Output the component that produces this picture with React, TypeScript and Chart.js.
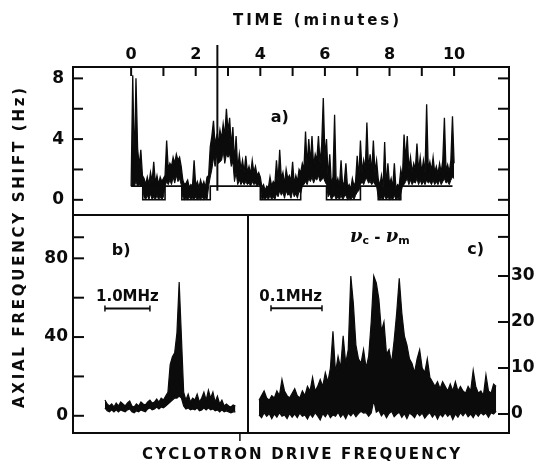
import React, { useEffect, useRef } from "react";
import { Chart, registerables } from "chart.js";

Chart.register(...registerables);

const W = 537;
const H = 466;
const INK = "#0b0b0b";
const FONT = "DejaVu Sans";

// ---------- Panel a) : axial frequency shift vs time ----------
const TIME_LABELS = [0, 2, 4, 6, 8, 10];
const TIME_TICKS = [0, 1, 2, 3, 4, 5, 6, 7, 8, 9, 10];
const SHIFT_LABELS = [0, 4, 8];
const SHIFT_TICKS = [0, 2, 4, 6, 8];
const A_DT = 0.05; // minutes between samples
// upper edge of the noisy trace
const A_UPPER = [
  0.9,
  8.2, 2.0, 8.0, 3.4, 2.2, 3.3, 1.6, 1.4, 1.0, 1.5,
  1.0, 1.8, 1.2, 2.5, 1.1, 1.6, 1.0, 1.5, 1.2, 1.4,
  1.6, 3.9, 2.0, 2.4, 2.2, 2.8, 2.4, 3.0, 2.6, 2.8,
  2.2, 1.3, 1.0, 1.1, 1.3, 0.8, 1.0, 0.9, 2.6, 0.9,
  1.2, 0.8, 1.3, 0.9, 1.2, 0.8, 1.5, 1.6, 3.5, 4.2,
  5.2, 3.6, 4.2, 3.8, 4.6, 4.0, 5.0, 4.2, 6.0, 4.5,
  5.4, 3.5, 4.8, 2.4, 4.2, 2.0, 3.0, 2.0, 2.6, 1.8,
  2.9, 1.8, 2.2, 1.7, 2.6, 1.8, 2.2, 1.6, 1.8, 1.5,
  0.8, 1.0, 0.6, 0.9, 0.8, 1.5, 0.9, 1.2, 1.0, 2.6,
  1.2, 3.3, 1.4, 1.8, 1.0, 2.0, 1.4, 1.6, 1.2, 2.5,
  1.0, 1.6, 1.2, 2.0, 1.8, 2.4, 2.0, 4.5, 2.2, 4.0,
  2.4, 4.2, 2.2, 3.0, 2.6, 4.2, 2.4, 3.6, 6.7, 2.8,
  4.0, 1.4, 3.0, 1.0, 1.5, 5.6, 1.0, 1.4, 0.9, 2.6,
  0.9, 1.2, 2.4, 0.8, 1.0, 0.7, 1.4, 0.9, 1.2, 2.9,
  1.4, 3.9, 1.8, 2.6, 2.0, 5.1, 2.0, 3.0, 1.8, 3.9,
  1.8, 2.6, 1.4, 0.9, 1.6, 0.8, 3.8, 0.9, 2.4, 1.0,
  1.4, 0.8, 2.4, 0.7, 1.0, 0.9, 2.0, 1.4, 4.3, 2.6,
  4.2, 2.0, 2.8, 1.8, 2.4, 2.0, 3.7, 1.9, 2.8, 1.8,
  2.6, 1.8, 6.3, 2.0, 2.5, 1.9, 2.8, 1.8, 2.2, 1.7,
  2.4, 1.8, 2.6, 5.4, 1.9, 2.3, 1.8, 2.6, 5.5, 2.4,
];
// lower edge of the noisy trace
const A_LOWER = [
  0.9,
  0.9, 0.9, 1.2, 0.9, 1.0, 0.9, 0.9, 0.2, 0, 0.3,
  0, 0.4, 0, 0.2, 0, 0.3, 0, 0.2, 0, 0.2,
  0.9, 1.2, 1.0, 1.3, 1.0, 1.5, 1.1, 1.6, 1.2, 1.4,
  1.0, 0.2, 0, 0.1, 0, 0.2, 0, 0.1, 0, 0.2,
  0, 0.1, 0, 0.2, 0, 0.1, 0, 0.9, 1.5, 2.0,
  2.8, 2.2, 3.0, 2.4, 2.5, 2.6, 3.2, 2.4, 3.0, 2.8,
  3.0, 2.2, 2.5, 1.2, 1.8, 1.0, 1.3, 1.0, 1.2, 1.0,
  1.2, 1.0, 1.1, 0.9, 1.2, 1.0, 1.1, 0.9, 1.0, 0.9,
  0, 0.1, 0, 0.2, 0, 0.3, 0, 0.2, 0, 0.4,
  0.2, 0.6, 0.3, 0.5, 0.1, 0.6, 0.3, 0.4, 0.1, 0.6,
  0.2, 0.4, 0.1, 0.6, 0.4, 0.9, 1.0, 1.2, 1.0, 1.4,
  1.2, 1.5, 1.1, 1.4, 1.3, 1.6, 1.2, 1.3, 1.5, 1.2,
  1.0, 0.2, 0.4, 0, 0.2, 0.3, 0, 0.2, 0, 0.3,
  0, 0.2, 0.3, 0, 0.1, 0, 0.2, 0, 0.3, 0.5,
  0.6, 1.0, 1.2, 1.0, 1.3, 1.4, 1.1, 1.2, 1.0, 1.2,
  1.0, 0.9, 0.2, 0, 0.1, 0, 0.3, 0, 0.2, 0,
  0.1, 0, 0.3, 0, 0.1, 0, 0.4, 0.9, 1.0, 1.2,
  1.4, 1.0, 1.3, 1.0, 1.2, 1.1, 1.4, 1.0, 1.3, 1.0,
  1.2, 1.0, 1.3, 1.1, 1.2, 1.0, 1.3, 1.0, 1.2, 1.0,
  1.3, 1.0, 1.2, 1.4, 1.1, 1.2, 1.0, 1.3, 1.5, 1.4,
];
const A_FLOOR_T = [0, 0.36, 1.05, 1.57, 2.45, 4.0, 5.25, 6.05, 7.1, 7.65, 8.35, 9.95];
const A_FLOOR_V = [0.9, 0, 0.9, 0, 0.9, 0, 0.9, 0, 0.9, 0, 0.9, 0.9];
const MARKER_T = 2.67;
const MARKER_RANGE = [0.6, 10.2];

// ---------- Panel b) : wide sweep (MHz) ----------
const B_DX = 0.05; // MHz between samples
const B_UPPER = [
  8, 6, 5, 6, 4.5, 6.5, 5, 7, 6, 5,
  6.5, 7.5, 5, 4.5, 6, 5, 7, 6, 5.5, 7,
  8, 6.5, 7, 8.5, 7, 9, 8, 10, 12, 26,
  30, 32, 42, 68, 40, 12, 8, 11, 7, 9,
  8, 11, 7, 9, 12, 8, 13, 9, 12, 7,
  10, 6, 8, 5, 6, 5, 4.5, 5.5, 5,
];
const B_LOWER = [
  4, 2.5, 2, 3, 2, 3, 2, 3, 2.5, 2,
  3, 3.5, 2, 1.5, 2.5, 2, 3, 2.5, 2, 3.5,
  4, 3, 3.5, 4.5, 3.5, 4.5, 4, 5, 6, 7,
  8, 9, 9, 10, 9, 5, 3.5, 4, 3, 3.5,
  3, 4, 2.5, 3, 4, 3, 4, 3, 3.5, 2.5,
  3, 2, 3, 2, 2.5, 2, 1.5, 2, 2,
];
const B_LABELS = [0, 40, 80];
const B_TICKS = [0, 20, 40, 60, 80, 90.7];
const B_BAR = [0, 1.0]; // MHz
const B_BAR_Y = 54.5;
const B_BAR_TEXT_Y = 60.5;
const B_EDGE_MARK = 3.0;

// ---------- Panel c) : narrow sweep (kHz) ----------
const C_DX = 5; // kHz between samples
const C_UPPER = [
  3, 4, 5, 3.5, 3, 4, 3.5, 5, 4, 7.5,
  5, 4, 3.5, 4.5, 5.5, 4, 3.5, 5, 4, 6,
  5, 8, 5, 6, 7.5, 6, 9, 7, 10, 18,
  9, 12.5, 10, 17, 11, 14, 30, 24, 15, 12,
  11, 14, 10, 12.5, 20, 30, 28.5, 25, 18, 20,
  13, 14, 11, 16, 22, 29.5, 22, 17, 15, 12,
  11, 9, 12, 14, 10, 9, 12, 8, 7, 6,
  7, 5.5, 7, 6, 5, 6.5, 5, 7, 5, 6,
  5, 4.5, 6, 5, 9.5, 6, 4.5, 5, 4, 8.5,
  5, 4.5, 6.5, 6,
];
const C_LOWER = [
  -0.2, -0.8, 0.3, -0.5, 0.1, -1.0, 0, -0.7, 0.3, -0.5,
  -0.2, -1.0, 0.1, -0.7, 0, -0.8, 0.2, -0.5, -0.2, -1.1,
  0, -0.7, 0.3, -0.4, -1.3, 0.1, -0.6, 0.3, -0.8, -0.2,
  -0.5, 0.4, -0.7, 0, -1.0, 0.2, -0.4, 0.3, -0.6, 0.1,
  0.6, 0.2, 0.3, -0.5, 0.2, 3.0, 0.4, 0.8, -0.4, 0.3,
  -0.8, 0.1, 0.6, -0.6, 0, 0.4, -0.7, 0.1, -1.0, 0.2,
  -0.2, -0.8, 0.3, -0.4, 0.2, -0.9, -0.2, 0.3, -0.7, 0.1,
  -1.1, 0, -0.6, 0.3, -0.5, 0.1, -1.2, 0, -0.7, 0.3,
  -0.4, 0.4, -0.6, 0, -0.8, 0.2, -0.5, 0.3, -0.2, 0.2,
  -0.7, 0.3, 0, 0.6,
];
const C_LABELS = [0, 10, 20, 30];
const C_TICKS = [0, 10, 20, 30, 38.5];
const C_BAR = [23.5, 123.5]; // kHz (0.1 MHz)
const C_BAR_Y = 23;
const C_BAR_TEXT_Y = 25.4;

// Axis ranges of the three panels
const XA_RANGE = [-1.8, 11.7];
const YA_RANGE = [-1.0, 8.75];
const XB_RANGE = [-0.71, 3.18];
const YB_RANGE = [-8.74, 101.5];
const XC_RANGE = [-21.6, 490.2];
const YC_RANGE = [-4.13, 43.04];

// ---------- helpers ----------
function seq(values: number[], dx: number) {
  return values.map((v, i) => ({ x: +(i * dx).toFixed(4), y: v }));
}

function line(ctx: CanvasRenderingContext2D, x1: number, y1: number, x2: number, y2: number, w = 2) {
  ctx.lineWidth = w;
  ctx.beginPath();
  ctx.moveTo(x1, y1);
  ctx.lineTo(x2, y2);
  ctx.stroke();
}

function text(ctx: CanvasRenderingContext2D, s: string, x: number, y: number, size: number, align: CanvasTextAlign = "center", style = "bold") {
  ctx.font = `${style} ${size}px "${FONT}"`;
  ctx.textAlign = align;
  ctx.textBaseline = "middle";
  ctx.fillText(s, x, y);
}

function spaced(ctx: CanvasRenderingContext2D, s: string, cx: number, cy: number, size: number, target: number) {
  ctx.font = `bold ${size}px "${FONT}"`;
  ctx.textAlign = "left";
  ctx.textBaseline = "middle";
  const chars = [...s];
  const widths = chars.map((c) => ctx.measureText(c).width);
  const natural = widths.reduce((a, b) => a + b, 0);
  const gap = (target - natural) / (chars.length - 1);
  let x = cx - target / 2;
  chars.forEach((c, i) => {
    ctx.fillText(c, x, cy);
    x += widths[i] + gap;
  });
}

function scaleBar(ctx: CanvasRenderingContext2D, x1: number, x2: number, y: number) {
  line(ctx, x1, y, x2, y, 2);
  line(ctx, x1, y - 3, x1, y + 3, 1.5);
  line(ctx, x2, y - 3, x2, y + 3, 1.5);
}

// ---------- plugins ----------
const panelA = {
  id: "panelA",
  afterDatasetsDraw(chart: any) {
    const { ctx, chartArea: ca, scales } = chart;
    const xs = scales.x, ys = scales.y;
    ctx.save();
    ctx.strokeStyle = INK;
    ctx.fillStyle = INK;
    ctx.lineCap = "butt";
    // frame
    line(ctx, ca.left - 1, ca.top, ca.right + 1, ca.top);
    line(ctx, ca.left, ca.top, ca.left, ca.bottom);
    line(ctx, ca.right, ca.top, ca.right, ca.bottom + 1);
    line(ctx, ca.left - 1, ca.bottom, ca.right + 1, ca.bottom);
    // time ticks (inward from top)
    TIME_TICKS.forEach((t) => {
      const x = xs.getPixelForValue(t);
      line(ctx, x, ca.top, x, ca.top + 9);
    });
    TIME_LABELS.forEach((t) => text(ctx, String(t), xs.getPixelForValue(t), ca.top - 12, 16));
    // shift ticks left & right
    SHIFT_TICKS.forEach((v) => {
      const y = ys.getPixelForValue(v);
      line(ctx, ca.left, y, ca.left + 10, y);
      line(ctx, ca.right - 11, y, ca.right, y);
    });
    SHIFT_LABELS.forEach((v) => text(ctx, String(v), ca.left - 9, ys.getPixelForValue(v), 17, "right"));
    // marker line
    const mx = xs.getPixelForValue(MARKER_T);
    line(ctx, mx, ys.getPixelForValue(MARKER_RANGE[1]), mx, ys.getPixelForValue(MARKER_RANGE[0]), 2);
    // panel label
    text(ctx, "a)", xs.getPixelForValue(4.6), ys.getPixelForValue(5.4), 16);
    // titles
    spaced(ctx, "TIME (minutes)", 316, 21, 15, 166);
    ctx.save();
    ctx.translate(20, 248);
    ctx.rotate(-Math.PI / 2);
    spaced(ctx, "AXIAL FREQUENCY SHIFT (Hz)", 0, 0, 15, 320);
    ctx.restore();
    ctx.restore();
  },
};

const panelB = {
  id: "panelB",
  afterDatasetsDraw(chart: any) {
    const { ctx, chartArea: ca, scales } = chart;
    const xs = scales.x, ys = scales.y;
    ctx.save();
    ctx.strokeStyle = INK;
    ctx.fillStyle = INK;
    line(ctx, ca.left, ca.top, ca.left, ca.bottom + 1);
    line(ctx, ca.left - 1, ca.bottom, ca.right, ca.bottom);
    line(ctx, ca.right, ca.top, ca.right, ca.bottom);
    B_TICKS.forEach((v) => {
      const y = ys.getPixelForValue(v);
      line(ctx, ca.left, y, ca.left + 11, y);
    });
    B_LABELS.forEach((v) => text(ctx, String(v), ca.left - 5, ys.getPixelForValue(v), 17, "right"));
    const mx = xs.getPixelForValue(B_EDGE_MARK);
    line(ctx, mx, ca.bottom, mx, ca.bottom + 8, 1.5);
    // scale bar
    const x1 = xs.getPixelForValue(B_BAR[0]), x2 = xs.getPixelForValue(B_BAR[1]);
    scaleBar(ctx, x1, x2, ys.getPixelForValue(B_BAR_Y));
    text(ctx, "1.0MHz", (x1 + x2) / 2, ys.getPixelForValue(B_BAR_TEXT_Y), 15);
    text(ctx, "b)", xs.getPixelForValue(0.36), ys.getPixelForValue(84), 16);
    spaced(ctx, "CYCLOTRON DRIVE FREQUENCY", 301, 455, 15, 318);
    ctx.restore();
  },
};

const panelC = {
  id: "panelC",
  afterDatasetsDraw(chart: any) {
    const { ctx, chartArea: ca, scales } = chart;
    const xs = scales.x, ys = scales.y;
    ctx.save();
    ctx.strokeStyle = INK;
    ctx.fillStyle = INK;
    line(ctx, ca.right, ca.top, ca.right, ca.bottom + 1);
    line(ctx, ca.left, ca.bottom, ca.right + 1, ca.bottom);
    C_TICKS.forEach((v) => {
      const y = ys.getPixelForValue(v);
      line(ctx, ca.right - 11, y, ca.right, y);
    });
    C_LABELS.forEach((v) => text(ctx, String(v), ca.right + 2, ys.getPixelForValue(v), 17, "left"));
    const x1 = xs.getPixelForValue(C_BAR[0]), x2 = xs.getPixelForValue(C_BAR[1]);
    scaleBar(ctx, x1, x2, ys.getPixelForValue(C_BAR_Y));
    text(ctx, "0.1MHz", x2, ys.getPixelForValue(C_BAR_TEXT_Y), 15, "right");
    text(ctx, "c)", xs.getPixelForValue(425), ys.getPixelForValue(35.7), 16);
    // nu_c - nu_m
    const parts = [
      { s: "ν", f: `italic bold 18px "DejaVu Serif"`, dy: 0 },
      { s: "c", f: `bold 11px "${FONT}"`, dy: 3 },
      { s: " - ", f: `bold 15px "${FONT}"`, dy: 0 },
      { s: "ν", f: `italic bold 18px "DejaVu Serif"`, dy: 0 },
      { s: "m", f: `bold 11px "${FONT}"`, dy: 3 },
    ];
    let total = 0;
    parts.forEach((p) => { ctx.font = p.f; total += ctx.measureText(p.s).width; });
    let x = xs.getPixelForValue(237) - total / 2;
    const y = ys.getPixelForValue(38.3);
    ctx.textAlign = "left";
    ctx.textBaseline = "middle";
    parts.forEach((p) => {
      ctx.font = p.f;
      ctx.fillText(p.s, x, y + p.dy);
      x += ctx.measureText(p.s).width;
    });
    ctx.restore();
  },
};

function config(datasets: any[], xr: number[], yr: number[], padding: any, plugin: any) {
  return {
    type: "line" as const,
    data: { datasets },
    options: {
      animation: false as const,
      responsive: false,
      events: [],
      layout: { padding },
      plugins: { legend: { display: false }, tooltip: { enabled: false } },
      scales: {
        x: { type: "linear" as const, display: false, min: xr[0], max: xr[1] },
        y: { type: "linear" as const, display: false, min: yr[0], max: yr[1] },
      },
      elements: { point: { radius: 0 }, line: { tension: 0 } },
    },
    plugins: [plugin],
  };
}

export default function App() {
  const refA = useRef<HTMLCanvasElement>(null);
  const refB = useRef<HTMLCanvasElement>(null);
  const refC = useRef<HTMLCanvasElement>(null);

  useEffect(() => {
    const chartA = new Chart(
      refA.current!,
      config(
        [
          { data: seq(A_UPPER, A_DT), borderColor: INK, backgroundColor: INK, borderWidth: 1.3, fill: "+1" },
          { data: seq(A_LOWER, A_DT), borderColor: INK, borderWidth: 1.0, fill: false },
          {
            data: A_FLOOR_T.map((t, i) => ({ x: t, y: A_FLOOR_V[i] })),
            borderColor: INK,
            borderWidth: 1.6,
            stepped: true,
            fill: false,
          },
        ],
        XA_RANGE,
        YA_RANGE,
        { left: 73, top: 67, right: W - 509, bottom: H - 215 },
        panelA
      ) as any
    );
    const chartB = new Chart(
      refB.current!,
      config(
        [
          { data: seq(B_UPPER, B_DX), borderColor: INK, backgroundColor: INK, borderWidth: 1.2, fill: "+1" },
          { data: seq(B_LOWER, B_DX), borderColor: INK, borderWidth: 1.2, fill: false },
        ],
        XB_RANGE,
        YB_RANGE,
        { left: 73, top: 216, right: W - 248, bottom: H - 433 },
        panelB
      ) as any
    );
    const chartC = new Chart(
      refC.current!,
      config(
        [
          { data: seq(C_UPPER, C_DX), borderColor: INK, backgroundColor: INK, borderWidth: 1.2, fill: "+1" },
          { data: seq(C_LOWER, C_DX), borderColor: INK, borderWidth: 1.2, fill: false },
        ],
        XC_RANGE,
        YC_RANGE,
        { left: 248, top: 216, right: W - 509, bottom: H - 433 },
        panelC
      ) as any
    );
    return () => {
      chartA.destroy();
      chartB.destroy();
      chartC.destroy();
    };
  }, []);

  const st: React.CSSProperties = { position: "absolute", left: 0, top: 0 };
  return (
    <div style={{ position: "absolute", left: 0, top: 0, width: W, height: H, background: "#fff" }}>
      <canvas ref={refA} width={W} height={H} style={st} />
      <canvas ref={refB} width={W} height={H} style={st} />
      <canvas ref={refC} width={W} height={H} style={st} />
    </div>
  );
}
